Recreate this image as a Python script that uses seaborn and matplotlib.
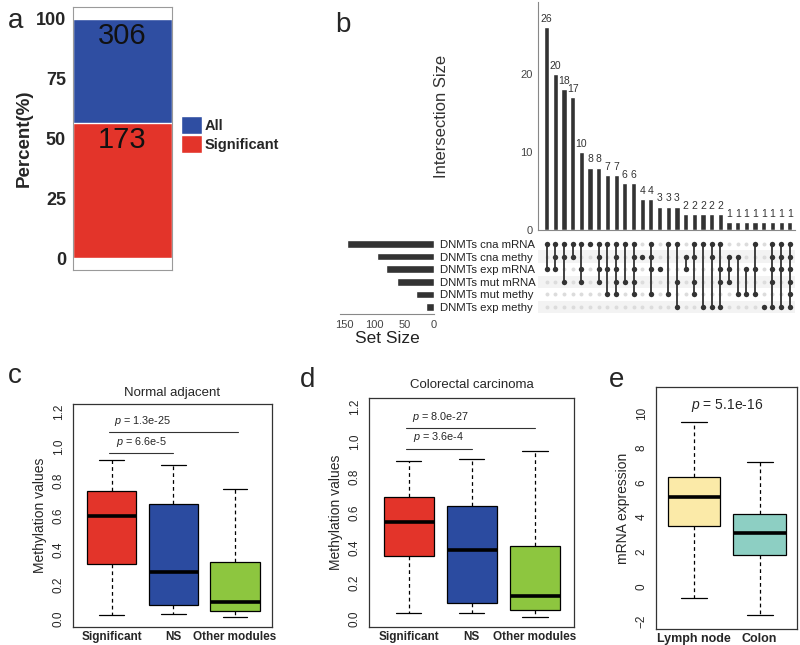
import numpy as np
import pandas as pd
import matplotlib
matplotlib.use("Agg")
import matplotlib.pyplot as plt
import seaborn as sns
from matplotlib.patches import Patch

sns.set_style("white")
plt.rcParams['font.family'] = ['Liberation Sans', 'DejaVu Sans']
plt.rcParams['mathtext.fontset'] = 'custom'
plt.rcParams['mathtext.it'] = 'Liberation Sans:italic'
plt.rcParams['mathtext.rm'] = 'Liberation Sans'

# ---- panel a
a_labels = ["All", "Significant"]
a_counts = [306, 173]
a_colors = ["#2F4EA2", "#E3342A"]

# ---- panel b (upset)
set_names = ["DNMTs cna mRNA", "DNMTs cna methy", "DNMTs exp mRNA",
             "DNMTs mut mRNA", "DNMTs mut methy", "DNMTs exp methy"]
set_sizes = [147, 95, 80, 62, 31, 13]
inter_sizes = [26, 20, 18, 17, 10, 8, 8, 7, 7, 6, 6, 4, 4, 3, 3, 3,
               2, 2, 2, 2, 2, 1, 1, 1, 1, 1, 1, 1, 1]
inter_sets = [[0, 2], [0, 1, 2], [0, 1, 3], [0, 1], [0, 2, 3], [0],
              [0, 1, 2, 3], [0, 2, 4], [0, 1, 2, 3, 4], [0, 3], [0, 1, 2, 3, 4],
              [1], [0, 1, 2, 4], [2], [0, 4], [0, 3, 5], [1, 2], [0, 1, 3, 4],
              [0, 5], [0, 1, 5], [0, 2, 3, 5], [1, 2, 3], [1, 4], [2, 4],
              [0, 2, 4], [5], [0, 1, 2, 3, 5], [0, 1, 2, 5], [0, 1, 2, 3, 4, 5]]

# ---- panels c, d (min, q1, median, q3, max)
meth_groups = ["Significant", "NS", "Other modules"]
meth_colors = ["#E3342A", "#2B4BA0", "#8DC63F"]
c_sig = [0.02, 0.32, 0.595, 0.74, 0.925]
c_ns = [0.025, 0.08, 0.27, 0.665, 0.895]
c_other = [0.01, 0.045, 0.095, 0.33, 0.755]
c_pvals = ["6.6e-5", "1.3e-25"]
d_sig = [0.03, 0.355, 0.545, 0.69, 0.89]
d_ns = [0.03, 0.09, 0.39, 0.635, 0.905]
d_other = [0.01, 0.05, 0.125, 0.41, 0.95]
d_pvals = ["3.6e-4", "8.0e-27"]

# ---- panel e
e_groups = ["Lymph node", "Colon"]
e_colors = ["#FBEAA8", "#8DCFC3"]
e_lymph = [-0.65, 3.5, 5.15, 6.3, 9.5]
e_colon = [-1.65, 1.8, 3.1, 4.2, 7.15]
e_pval = "5.1e-16"

W, H = 800, 645
fig = plt.figure(figsize=(8, 6.45), dpi=100)


def px_axes(x0, y0, x1, y1):
    return fig.add_axes([x0 / W, 1 - y1 / H, (x1 - x0) / W, (y1 - y0) / H])


# ================= a
ax = px_axes(73, 7, 172, 270)
pct_sig = a_counts[1] / a_counts[0] * 100
sns.barplot(x=["x"], y=[100], color=a_colors[0], width=1, saturation=1, ax=ax)
sns.barplot(x=["x"], y=[pct_sig], color=a_colors[1], width=1, saturation=1, ax=ax)
ax.set_xlim(-0.5, 0.5)
ax.set_ylim(-5, 105)
ax.set_yticks([0, 25, 50, 75, 100])
ax.set_yticklabels(["0", "25", "50", "75", "100"], fontsize=13, fontweight='bold')
ax.set_xticks([0])
ax.set_xticklabels([""])
ax.set_xlabel("")
ax.set_ylabel("Percent(%)", fontsize=13.5, fontweight='bold', labelpad=2)
for s in ax.spines.values():
    s.set_color("#9a9a9a")
    s.set_linewidth(0.8)
ax.tick_params(length=3, color="#9a9a9a", width=0.8, pad=2)
ax.text(0, 93, str(a_counts[0]), ha='center', va='center', fontsize=21, color='#111111')
ax.text(0, 49.5, str(a_counts[1]), ha='center', va='center', fontsize=21, color='#111111')
handles = [Patch(facecolor=c, label=l) for c, l in zip(a_colors, a_labels)]
fig.legend(handles=handles, loc='upper left', bbox_to_anchor=(181 / W, 1 - 116 / H),
           frameon=False, prop=dict(weight='bold', size=10.5), handlelength=1.45,
           handleheight=1.5, handletextpad=0.15, labelspacing=0.1, borderpad=0,
           borderaxespad=0)

# ================= b : intersection bars
axb = px_axes(538, 2, 795, 230)
xs = np.arange(len(inter_sizes))
sns.barplot(x=xs, y=inter_sizes, color="#333333", width=0.6, saturation=1, ax=axb)
axb.set_xlim(-1.0, 28.6)
axb.set_ylim(0, 29.2)
for i, v in enumerate(inter_sizes):
    axb.text(i, v + 0.4, str(v), ha='center', va='bottom', fontsize=7.5, color='#333333')
axb.set_xticks([])
axb.set_yticks([0, 10, 20])
axb.tick_params(axis='y', labelsize=8, labelcolor='#444444', length=3, color='#888888', pad=1)
sns.despine(ax=axb)
axb.spines['left'].set_color('#888888')
axb.spines['bottom'].set_color('#888888')
axb.set_ylabel("Intersection Size", fontsize=12, color='#333333')
axb.yaxis.set_label_coords(-0.345, 0.5)

# matrix
axm = px_axes(538, 237, 795, 314)
for r in [1, 3, 5]:
    axm.axhspan(r - 0.5, r + 0.5, color='#f3f3f3', zorder=0, lw=0)
cols, rows, filled = [], [], []
for i, members in enumerate(inter_sets):
    for r in range(len(set_names)):
        cols.append(i)
        rows.append(r)
        filled.append(r in members)
grid = pd.DataFrame({"col": cols, "row": rows, "filled": filled})
sns.scatterplot(data=grid[~grid.filled], x="col", y="row", color='#dcdcdc', s=8,
                linewidth=0, ax=axm, zorder=2)
for i, members in enumerate(inter_sets):
    if len(members) > 1:
        axm.plot([i, i], [min(members), max(members)], color='#333333', lw=1.3, zorder=3)
sns.scatterplot(data=grid[grid.filled], x="col", y="row", color='#333333', s=15,
                linewidth=0, ax=axm, zorder=4)
axm.set_xlim(-1.0, 28.6)
axm.set_ylim(5.55, -0.55)
axm.set_xticks([])
axm.set_xlabel("")
axm.set_ylabel("")
axm.set_yticks(range(len(set_names)))
axm.set_yticklabels(set_names, fontsize=8.2, color='#222222')
axm.tick_params(axis='y', length=0, pad=70.5)
for lab in axm.get_yticklabels():
    lab.set_ha('left')
for s in axm.spines.values():
    s.set_visible(False)

# set size
axs = px_axes(340, 237, 434, 314)
sns.barplot(x=set_sizes, y=set_names, orient='h', color='#333333', width=0.6,
            saturation=1, ax=axs)
axs.set_xlim(158, 0)
axs.set_ylim(5.55, -0.55)
axs.set_yticks([])
axs.set_ylabel("")
axs.set_xticks([150, 100, 50, 0])
axs.tick_params(axis='x', labelsize=8, labelcolor='#444444', length=3, color='#888888', pad=1)
axs.set_xlabel("Set Size", fontsize=12.5, color='#222222', labelpad=1)
for k in ['top', 'right', 'left']:
    axs.spines[k].set_visible(False)
axs.spines['bottom'].set_color('#888888')


# ================= boxplots
def box_panel(ax, groups, stats, colors, ylim, xlim, yticks, ylabel):
    df = pd.DataFrame({"group": np.repeat(groups, 5), "value": np.concatenate(stats)})
    sns.boxplot(data=df, x="group", y="value", hue="group", palette=colors,
                whis=(0, 100), width=0.8, linecolor='black', linewidth=0.9,
                saturation=1, legend=False, ax=ax,
                medianprops=dict(linewidth=2.6, color='black'),
                whiskerprops=dict(linestyle=(0, (3, 2.5)), linewidth=0.9))
    ax.set_ylim(*ylim)
    ax.set_xlim(*xlim)
    ax.set_yticks(yticks)
    ax.tick_params(axis='y', labelrotation=90, labelsize=8.5, length=4, pad=2)
    for lab in ax.get_yticklabels():
        lab.set_va('center')
    ax.tick_params(axis='x', length=0, pad=3)
    for lab in ax.get_xticklabels():
        lab.set_fontweight('bold')
        lab.set_fontsize(8.5)
    ax.set_xlabel("")
    ax.set_ylabel(ylabel, fontsize=10)
    for s in ax.spines.values():
        s.set_color('#333333')
        s.set_linewidth(0.9)


def bracket(ax, x0, x1, y, label, size=7.8):
    ax.plot([x0, x1], [y, y], color='#333333', lw=0.8)
    ax.text((x0 + x1) / 2 if x1 - x0 < 1.5 else 0.5, y + 0.025, r"$p$ = " + label,
            ha='center', va='bottom', fontsize=size)


mticks = [0, 0.2, 0.4, 0.6, 0.8, 1.0, 1.2]

axc = px_axes(73, 404, 272, 627)
box_panel(axc, meth_groups, [c_sig, c_ns, c_other], meth_colors,
          (-0.048, 1.248), (-0.63, 2.6), mticks, "Methylation values")
axc.set_yticklabels(["0.0", "0.2", "0.4", "0.6", "0.8", "1.0", "1.2"])
axc.set_title("Normal adjacent", fontsize=9.5, pad=6)
bracket(axc, -0.05, 1.0, 0.963, c_pvals[0])
bracket(axc, -0.05, 2.05, 1.085, c_pvals[1])

axd = px_axes(369, 398, 574, 627)
box_panel(axd, meth_groups, [d_sig, d_ns, d_other], meth_colors,
          (-0.048, 1.248), (-0.63, 2.62), mticks, "Methylation values")
axd.set_yticklabels(["0.0", "0.2", "0.4", "0.6", "0.8", "1.0", "1.2"])
axd.set_title("Colorectal carcinoma", fontsize=9.5, pad=7)
bracket(axd, -0.05, 1.0, 0.96, d_pvals[0])
bracket(axd, -0.05, 2.0, 1.077, d_pvals[1])

axe = px_axes(656, 387, 797, 629)
box_panel(axe, e_groups, [e_lymph, e_colon], e_colors,
          (-2.46, 11.5), (-0.58, 1.57), [-2, 0, 2, 4, 6, 8, 10], "mRNA expression")
for lab in axe.get_xticklabels():
    lab.set_fontsize(9)
axe.text(0.5, 10.45, r"$p$ = " + e_pval, ha='center', va='center', fontsize=10)

# panel letters
for letter, x, y in [("a", 16, 28), ("b", 343, 32), ("c", 15, 383),
                     ("d", 308, 387), ("e", 617, 387)]:
    fig.text(x / W, 1 - y / H, letter, ha='center', va='baseline', fontsize=20)

fig.savefig("out.png", dpi=100)
